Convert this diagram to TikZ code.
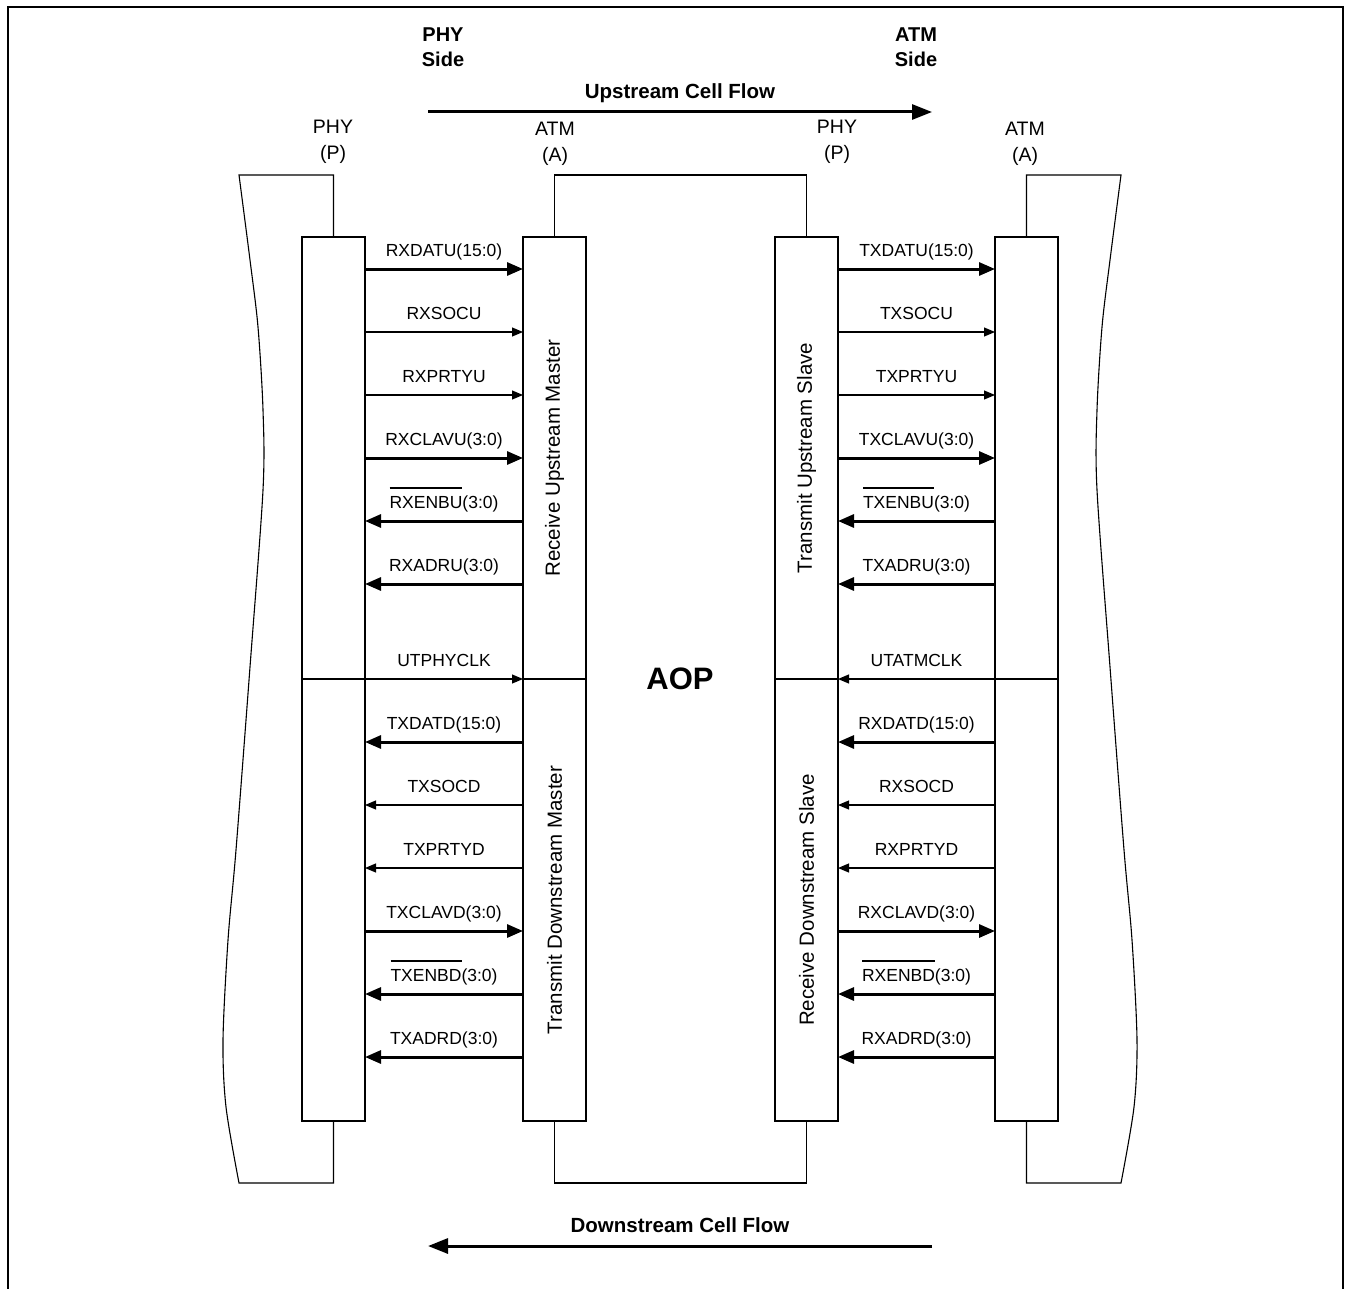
\documentclass[tikz,border=0pt]{standalone}
\usepackage{fontspec}
\setmainfont{Liberation Sans}
\usetikzlibrary{arrows.meta,positioning}
\newlength{\sigbarwd}
\newcommand{\sigbar}[1]{\settowidth{\sigbarwd}{#1}\makebox[0pt][l]{\rule[19.5pt]{\sigbarwd}{1.3pt}}#1}
\tikzset{
  font=\fontsize{17.5}{20}\selectfont,
  box/.style={draw,line width=1.1pt,minimum width=63pt,minimum height=442pt,
              inner sep=0pt,outer sep=0pt},
  wire/.style={line width=1.1pt,line join=miter},
  bus/.style={line width=3pt,-{Triangle[length=16pt,width=13pt]}},
  ctl/.style={line width=1.1pt,-{Triangle[length=11pt,width=9pt]}},
  sig/.style={above=5pt,inner sep=2pt,text height=12.5pt,text depth=4.5pt},
  devlbl/.style={align=center,font=\fontsize{19.5}{26}\selectfont},
  side/.style={align=center,font=\bfseries\fontsize{20}{25}\selectfont},
  flowarr/.style={line width=3pt,-{Triangle[length=20pt,width=15pt]}},
  flowlbl/.style={above=8pt,inner sep=0pt,text depth=4pt,
                  font=\bfseries\fontsize{20.5}{24}\selectfont},
  unit/.style={rotate=90,font=\fontsize{20.5}{24}\selectfont},
}
\begin{document}
\begin{tikzpicture}[x=1pt,y=-1pt]
  \useasboundingbox (0,0) rectangle (1348,1289);

  % ---- frame ----
  \draw[line width=2pt] (8,1289) -- (8,7) -- (1343,7) -- (1343,1289);

  % ---- headings ----
  \node[side] (physide) at (443,47) {PHY\\Side};
  \node[side] (atmside) at (916,47) {ATM\\Side};
  \coordinate (upstart) at (428,112);
  \coordinate (upend) at (932,112);
  \draw[flowarr] (upstart) -- node[flowlbl] (uplbl) {Upstream Cell Flow} (upend);

  % ---- interface boxes ----
  \node[box,anchor=north west] (phyUL) at (302,237) {};
  \node[box,below=0pt of phyUL] (phyDL) {};
  \node[box,right=158pt of phyUL] (atmUL) {};
  \node[box,below=0pt of atmUL] (atmDL) {};
  \node[box,right=189pt of atmUL] (phyUR) {};
  \node[box,below=0pt of phyUR] (phyDR) {};
  \node[box,right=157pt of phyUR] (atmUR) {};
  \node[box,below=0pt of atmUR] (atmDR) {};

  \node[unit] (rxum) at (atmUL) {Receive Upstream Master};
  \node[unit] (txdm) at (atmDL) {Transmit Downstream Master};
  \node[unit] (txus) at (phyUR) {Transmit Upstream Slave};
  \node[unit] (rxds) at (phyDR) {Receive Downstream Slave};

  \node[devlbl] (phyLtag) at (333,142) {PHY\\(P)};
  \node[devlbl] (atmLtag) at (555,144) {ATM\\(A)};
  \node[devlbl] (phyRtag) at (837,142) {PHY\\(P)};
  \node[devlbl] (atmRtag) at (1025,144) {ATM\\(A)};

  \node[font=\bfseries\fontsize{31}{36}\selectfont] (aop) at (680,679) {AOP};

  % ---- device outlines ----
  \coordinate (topedge) at (0,175);
  \coordinate (botedge) at (0,1183);
  \draw[wire] (phyUL.north) -- (phyUL.north |- topedge)
    -- plot[smooth] coordinates {(239,175) (250,260) (258,327) (263,410) (263,490)
       (250,667) (236,850) (228,940) (223,1040) (226,1107) (239,1183)}
    -- (phyDL.south |- botedge) -- (phyDL.south);
  \draw[wire] (atmUL.north) -- (atmUL.north |- topedge)
    -- (phyUR.north |- topedge) -- (phyUR.north);
  \draw[wire] (atmDL.south) -- (atmDL.south |- botedge)
    -- (phyDR.south |- botedge) -- (phyDR.south);
  \draw[wire] (atmUR.north) -- (atmUR.north |- topedge)
    -- plot[smooth] coordinates {(1121,175) (1110,260) (1102,327) (1097,410) (1097,490)
       (1110,667) (1124,850) (1132,940) (1137,1040) (1134,1107) (1121,1183)}
    -- (atmDR.south |- botedge) -- (atmDR.south);

  % ---- signal rows ----
  \coordinate (r1) at (0,269);  \coordinate (r2) at (0,332);  \coordinate (r3) at (0,395);
  \coordinate (r4) at (0,458);  \coordinate (r5) at (0,521);  \coordinate (r6) at (0,584);
  \coordinate (r7) at (0,679);
  \coordinate (r8) at (0,742);  \coordinate (r9) at (0,805);  \coordinate (r10) at (0,868);
  \coordinate (r11) at (0,931); \coordinate (r12) at (0,994); \coordinate (r13) at (0,1057);

  % ---- PHY side: receive upstream / transmit downstream master ----
  \draw[bus] (phyUL.east |- r1) -- node[sig] {RXDATU(15:0)} (atmUL.west |- r1);
  \draw[ctl] (phyUL.east |- r2) -- node[sig] {RXSOCU} (atmUL.west |- r2);
  \draw[ctl] (phyUL.east |- r3) -- node[sig] {RXPRTYU} (atmUL.west |- r3);
  \draw[bus] (phyUL.east |- r4) -- node[sig] {RXCLAVU(3:0)} (atmUL.west |- r4);
  \draw[bus] (atmUL.west |- r5) -- node[sig] {\sigbar{RXENBU}(3:0)} (phyUL.east |- r5);
  \draw[bus] (atmUL.west |- r6) -- node[sig] {RXADRU(3:0)} (phyUL.east |- r6);
  \draw[ctl] (phyUL.east |- r7) -- node[sig] {UTPHYCLK} (atmUL.west |- r7);
  \draw[bus] (atmDL.west |- r8) -- node[sig] {TXDATD(15:0)} (phyDL.east |- r8);
  \draw[ctl] (atmDL.west |- r9) -- node[sig] {TXSOCD} (phyDL.east |- r9);
  \draw[ctl] (atmDL.west |- r10) -- node[sig] {TXPRTYD} (phyDL.east |- r10);
  \draw[bus] (phyDL.east |- r11) -- node[sig] {TXCLAVD(3:0)} (atmDL.west |- r11);
  \draw[bus] (atmDL.west |- r12) -- node[sig] {\sigbar{TXENBD}(3:0)} (phyDL.east |- r12);
  \draw[bus] (atmDL.west |- r13) -- node[sig] {TXADRD(3:0)} (phyDL.east |- r13);

  % ---- ATM side: transmit upstream / receive downstream slave ----
  \draw[bus] (phyUR.east |- r1) -- node[sig] {TXDATU(15:0)} (atmUR.west |- r1);
  \draw[ctl] (phyUR.east |- r2) -- node[sig] {TXSOCU} (atmUR.west |- r2);
  \draw[ctl] (phyUR.east |- r3) -- node[sig] {TXPRTYU} (atmUR.west |- r3);
  \draw[bus] (phyUR.east |- r4) -- node[sig] {TXCLAVU(3:0)} (atmUR.west |- r4);
  \draw[bus] (atmUR.west |- r5) -- node[sig] {\sigbar{TXENBU}(3:0)} (phyUR.east |- r5);
  \draw[bus] (atmUR.west |- r6) -- node[sig] {TXADRU(3:0)} (phyUR.east |- r6);
  \draw[ctl] (atmUR.west |- r7) -- node[sig] {UTATMCLK} (phyUR.east |- r7);
  \draw[bus] (atmDR.west |- r8) -- node[sig] {RXDATD(15:0)} (phyDR.east |- r8);
  \draw[ctl] (atmDR.west |- r9) -- node[sig] {RXSOCD} (phyDR.east |- r9);
  \draw[ctl] (atmDR.west |- r10) -- node[sig] {RXPRTYD} (phyDR.east |- r10);
  \draw[bus] (phyDR.east |- r11) -- node[sig] {RXCLAVD(3:0)} (atmDR.west |- r11);
  \draw[bus] (atmDR.west |- r12) -- node[sig] {\sigbar{RXENBD}(3:0)} (phyDR.east |- r12);
  \draw[bus] (atmDR.west |- r13) -- node[sig] {RXADRD(3:0)} (phyDR.east |- r13);

  % ---- downstream flow ----
  \coordinate (dnstart) at (932,1246);
  \coordinate (dnend) at (428,1246);
  \draw[flowarr] (dnstart) -- node[flowlbl] (dnlbl) {Downstream Cell Flow} (dnend);
\end{tikzpicture}
\end{document}
